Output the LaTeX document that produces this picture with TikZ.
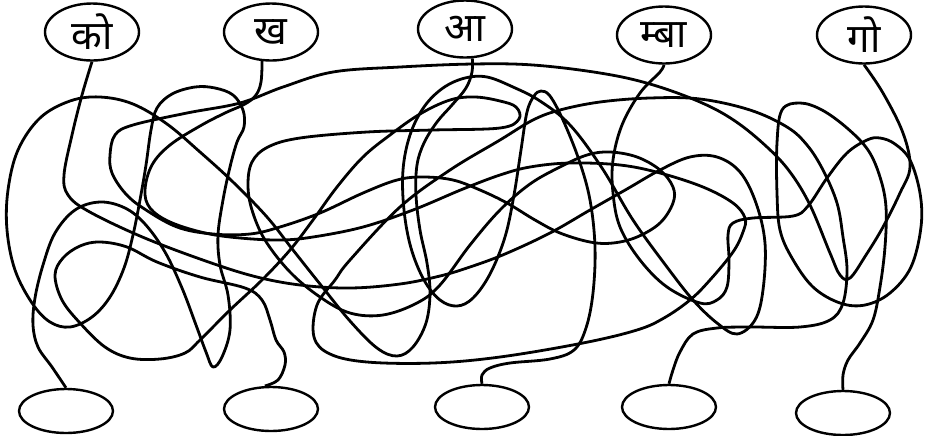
\documentclass[tikz,border=0pt]{standalone}
\usepackage{fontspec}
\newfontfamily\devfont[Script=Devanagari]{Noto Sans}
\usetikzlibrary{shapes.geometric}

\begin{document}
\begin{tikzpicture}[x=0.5pt,y=-0.5pt,
  word/.style={ellipse, draw, line width=1.2pt, minimum width=47pt, minimum height=28.5pt, inner sep=0pt, font=\devfont\fontsize{20}{24}\selectfont},
  blank/.style={ellipse, draw, line width=1.2pt, minimum width=47pt, minimum height=22pt, inner sep=0pt},
  thread/.style={line width=1.4pt, line join=round}]
\useasboundingbox (0,0) rectangle (928,435);

\node[word] (ko) at (92,32) {को};
\node[word] (kha) at (271,32) {ख};
\node[word] (aa) at (465,29) {आ};
\node[word] (mba) at (664,35) {म्बा};
\node[word] (go) at (864,35) {गो};

\node[blank] (b1) at (66,411) {};
\node[blank] (b2) at (271,409) {};
\node[blank] (b3) at (482,407) {};
\node[blank] (b4) at (669,407) {};
\node[blank] (b5) at (843,413) {};

% ko
\draw[thread] plot [smooth, tension=0.6] coordinates {(ko.south) (82,95) (72,135) (64,175) (68,195) (88,211) (140,236) (200,259) (253,276) (300,285) (350,288) (400,284) (440,276) (470,267) (505,254) (550,233) (590,210) (627,189) (660,170) (690,157) (717,157) (740,172) (756,203) (765,243) (763,290) (755,320) (737,334) (717,323) (693,300) (667,267) (633,220) (602,168) (570,125) (540,101) (513,87) (487,77) (465,78) (443,88) (424,107) (410,135) (403,170) (404,210) (411,248) (424,280) (440,300) (457,306) (473,298) (490,274) (505,237) (514,195) (521,150) (527,112) (534,96) (541,91) (550,96) (563,120) (579,160) (590,200) (595,247) (593,293) (586,328) (574,350) (550,359) (510,363) (490,368) (482,375) (b3.north)};

% kha
\draw[thread] plot [smooth, tension=0.6] coordinates {(kha.-107) (261,82) (256,95) (245,104) (225,113) (200,126) (170,145) (152,165) (145,190) (150,208) (170,222) (205,233) (240,238) (280,240) (313,237) (363,227) (413,210) (463,189) (500,175) (530,167) (570,163) (620,165) (660,173) (703,187) (733,203) (745,218) (743,232) (733,252) (710,280) (690,300) (664,318) (637,330) (583,343) (500,357) (433,363) (367,362) (330,354) (314,337) (317,305) (335,280) (350,260) (400,207) (450,170) (500,140) (533,120) (560,110) (600,102) (650,98) (700,99) (750,110) (787,127) (807,145) (823,170) (837,203) (843,237) (847,270) (843,303) (830,320) (800,327) (750,327) (717,328) (693,334) (680,352) (673,370) (b4.north)};

% aa
\draw[thread] plot [smooth, tension=0.6] coordinates {(aa.-76) (472,72) (466,88) (452,105) (437,122) (424,143) (417,165) (416,195) (420,230) (427,263) (430,293) (426,323) (413,347) (397,356) (377,348) (350,321) (320,284) (293,250) (267,217) (233,182) (200,152) (167,124) (133,104) (100,97) (70,101) (40,118) (18,150) (8,190) (7,230) (15,270) (32,303) (50,322) (70,327) (92,317) (110,297) (124,268) (133,235) (140,200) (146,165) (151,130) (157,108) (172,94) (195,87) (215,88) (233,95) (243,110) (244,127) (237,142) (230,167) (223,200) (218,235) (220,265) (228,295) (230,330) (222,357) (213,367) (206,352) (196,325) (182,288) (165,252) (145,224) (125,208) (100,202) (75,210) (55,233) (43,265) (35,298) (33,325) (38,347) (52,367) (b1.north)};

% mba
\draw[thread] plot [smooth, tension=0.6] coordinates {(mba.south) (660,72) (640,93) (622,125) (613,160) (613,193) (620,227) (640,260) (667,287) (700,303) (717,300) (727,287) (729,260) (728,235) (733,223) (753,218) (793,216) (808,206) (827,178) (847,153) (867,140) (880,138) (895,144) (910,160) (920,193) (921,227) (911,267) (890,293) (865,305) (840,303) (813,287) (792,258) (780,230) (777,193) (777,143) (782,110) (800,103) (822,110) (847,128) (868,150) (880,177) (886,207) (885,247) (880,287) (873,320) (860,343) (848,360) (843,375) (b5.north)};

% go
\draw[thread] plot [smooth, tension=0.6] coordinates {(go.south) (883,93) (903,133) (910,167) (900,193) (883,227) (866,255) (850,278) (840,275) (830,253) (810,205) (790,172) (767,147) (735,121) (700,102) (650,84) (600,73) (533,65) (473,64) (400,67) (333,72) (283,87) (240,103) (187,113) (133,125) (115,135) (110,155) (112,173) (125,193) (143,208) (177,227) (213,234) (250,234) (280,227) (320,213) (363,193) (397,180) (423,177) (453,180) (480,190) (507,203) (535,220) (560,233) (590,242) (613,243) (637,237) (660,223) (673,203) (673,187) (660,170) (637,157) (610,152) (587,155) (560,167) (530,184) (500,210) (470,245) (440,285) (417,303) (383,315) (350,313) (320,297) (290,272) (265,240) (252,210) (248,185) (252,162) (268,147) (300,138) (367,132) (433,130) (500,128) (519,119) (516,107) (500,101) (475,97) (450,100) (420,114) (390,135) (363,157) (337,187) (313,220) (290,250) (262,280) (230,310) (200,340) (185,353) (160,359) (130,358) (105,347) (80,323) (62,300) (55,275) (63,258) (80,246) (100,242) (127,247) (157,262) (200,277) (245,288) (262,300) (270,320) (276,340) (284,352) (285,365) (278,380) (b2.105)};
\end{tikzpicture}
\end{document}
